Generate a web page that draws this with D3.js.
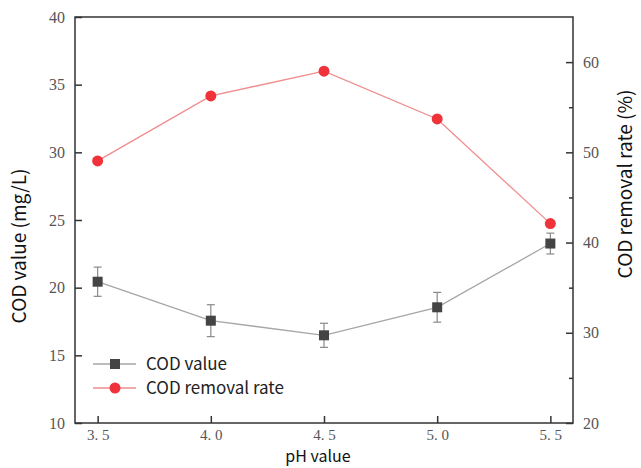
<!DOCTYPE html>
<html>
<head>
<meta charset="utf-8">
<script src="https://cdn.jsdelivr.net/npm/d3@7"></script>
<style>
  body { margin: 0; background: #fff; }
  svg text { font-family: "Liberation Serif", serif; }
  .title { font-family: "Noto Sans CJK SC", "Noto Sans", sans-serif; font-size: 19px; fill: #111; }
  .legend text { font-family: "Noto Sans CJK SC", "Noto Sans", sans-serif; font-size: 17px; fill: #222; }
</style>
</head>
<body>
<svg id="chart" width="641" height="468"></svg>
<script>
const phValues = [3.5, 4.0, 4.5, 5.0, 5.5];
const codValues = [20.44, 17.56, 16.48, 18.55, 23.26];
const codErrors = [1.08, 1.18, 0.89, 1.1, 0.77];
const removalRates = [49.05, 56.25, 59.0, 53.7, 42.1];
const leftTicks = [10, 15, 20, 25, 30, 35, 40];
const rightTicks = [20, 30, 40, 50, 60];

const svg = d3.select("#chart");
const plotL = 75, plotR = 573, plotT = 17, plotB = 423;

const x = d3.scaleLinear().domain([3.4, 5.6]).range([plotL, plotR]);
const yL = d3.scaleLinear().domain([10, 40]).range([plotB, plotT]);
const yR = d3.scaleLinear().domain([20, 65]).range([plotB, plotT]);

const axisColor = "#333";
const labelColor = "#555";

// frame
svg.append("rect")
    .attr("x", plotL).attr("y", plotT)
    .attr("width", plotR - plotL).attr("height", plotB - plotT)
    .attr("fill", "none").attr("stroke", axisColor).attr("stroke-width", 1.5);

function styleAxis(g, size) {
    g.select("path.domain").remove();
    g.selectAll("line").attr("stroke", axisColor).attr("stroke-width", 1.5);
    g.selectAll("text").attr("fill", labelColor).style("font-size", (size || 16) + "px")
        .style("font-family", "'Liberation Serif', serif");
}

// bottom axis, ticks pointing inward
svg.append("g")
    .attr("transform", `translate(0,${plotB})`)
    .call(d3.axisBottom(x).tickValues(phValues).tickSize(-7).tickPadding(6)
        .tickFormat(d => d3.format(".1f")(d).replace(".", ". ")))
    .call(styleAxis, 15);

// left axis
svg.append("g")
    .attr("transform", `translate(${plotL},0)`)
    .call(d3.axisLeft(yL).tickValues(leftTicks).tickSize(-7).tickPadding(10))
    .call(styleAxis);

// right axis with minor ticks
svg.append("g")
    .attr("transform", `translate(${plotR},0)`)
    .call(d3.axisRight(yR).tickValues(rightTicks).tickSize(-7).tickPadding(10))
    .call(styleAxis);
svg.append("g")
    .attr("transform", `translate(${plotR},0)`)
    .call(d3.axisRight(yR).tickValues([25, 35, 45, 55]).tickSize(-4).tickFormat(""))
    .call(styleAxis);

// COD value series
const codLine = d3.line().x((d, i) => x(phValues[i])).y(d => yL(d));
svg.append("path")
    .datum(codValues)
    .attr("d", codLine)
    .attr("fill", "none").attr("stroke", "#a6a6a6").attr("stroke-width", 1.3);

const errG = svg.append("g").attr("stroke", "#8a8a8a").attr("stroke-width", 1.2);
codValues.forEach((v, i) => {
    const cx = x(phValues[i]);
    errG.append("line").attr("x1", cx).attr("x2", cx)
        .attr("y1", yL(v - codErrors[i])).attr("y2", yL(v + codErrors[i]));
    [v - codErrors[i], v + codErrors[i]].forEach(e => {
        errG.append("line").attr("x1", cx - 4).attr("x2", cx + 4)
            .attr("y1", yL(e)).attr("y2", yL(e));
    });
});

svg.append("g").selectAll("rect")
    .data(codValues)
    .enter()
    .append("rect")
    .attr("x", (d, i) => x(phValues[i]) - 5)
    .attr("y", d => yL(d) - 5)
    .attr("width", 10).attr("height", 10)
    .attr("fill", "#444");

// removal rate series
const rateLine = d3.line().x((d, i) => x(phValues[i])).y(d => yR(d));
svg.append("path")
    .datum(removalRates)
    .attr("d", rateLine)
    .attr("fill", "none").attr("stroke", "#f08c8c").attr("stroke-width", 1.3);

svg.append("g").selectAll("circle")
    .data(removalRates)
    .enter()
    .append("circle")
    .attr("cx", (d, i) => x(phValues[i]))
    .attr("cy", d => yR(d))
    .attr("r", 5.5)
    .attr("fill", "#f0323a");

// legend
const legend = svg.append("g").attr("class", "legend");
const items = [
    { name: "COD value", line: "#a6a6a6", mark: "square", y: 364 },
    { name: "COD removal rate", line: "#f08c8c", mark: "circle", y: 388 }
];
items.forEach(it => {
    legend.append("line").attr("x1", 93).attr("x2", 136)
        .attr("y1", it.y).attr("y2", it.y)
        .attr("stroke", it.line).attr("stroke-width", 1.3);
    if (it.mark === "square") {
        legend.append("rect").attr("x", 110).attr("y", it.y - 5)
            .attr("width", 10).attr("height", 10).attr("fill", "#444");
    } else {
        legend.append("circle").attr("cx", 115).attr("cy", it.y)
            .attr("r", 5.5).attr("fill", "#f0323a");
    }
    legend.append("text").attr("x", 146).attr("y", it.y)
        .attr("dy", "0.35em").text(it.name);
});

// axis titles
svg.append("text").attr("class", "title")
    .style("font-size", "16px")
    .attr("x", 318).attr("y", 462)
    .attr("text-anchor", "middle").text("pH value");

svg.append("text").attr("class", "title")
    .attr("transform", "translate(26,246) rotate(-90)")
    .attr("text-anchor", "middle")
    .text("COD value (mg/L)");

svg.append("text").attr("class", "title")
    .attr("transform", "translate(632,184) rotate(-90)")
    .attr("text-anchor", "middle")
    .text("COD removal rate (%)");
</script>
</body>
</html>
